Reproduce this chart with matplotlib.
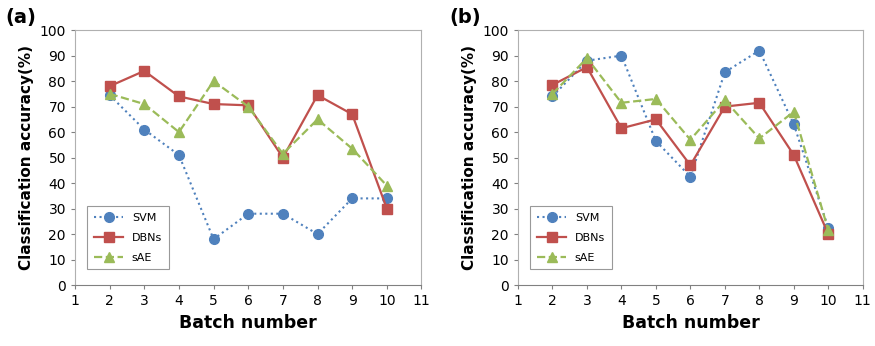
import matplotlib.pyplot as plt

batches = [2, 3, 4, 5, 6, 7, 8, 9, 10]

# panel (a)
svm_a = [74.5, 61, 51, 18, 28, 28, 20, 34, 34]
dbn_a = [78, 84, 74, 71, 70.5, 50, 74.5, 67, 30]
sae_a = [75, 71, 60, 80, 70, 51.5, 65, 53.5, 39]

# panel (b)
svm_b = [74, 88, 90, 56.5, 42.5, 83.5, 92, 63, 22.5]
dbn_b = [78.5, 85.5, 61.5, 65, 47, 70, 71.5, 51, 20]
sae_b = [75, 89, 71.5, 73, 57, 72.5, 57.5, 68, 21.5]

BLUE = "#4F81BD"
RED = "#C0504D"
GREEN = "#9BBB59"

fig = plt.figure(figsize=(8.75, 3.46), dpi=100)
ax_a = fig.add_axes([0.0857, 0.176, 0.396, 0.737])
ax_b = fig.add_axes([0.592, 0.176, 0.394, 0.737])


def draw(ax, svm, dbn, sae, tag):
    ax.plot(batches, svm, color=BLUE, linestyle=":", linewidth=1.5,
            marker="o", markersize=7, label="SVM")
    ax.plot(batches, dbn, color=RED, linestyle="-", linewidth=1.6,
            marker="s", markersize=6.5, label="DBNs")
    ax.plot(batches, sae, color=GREEN, linestyle="--", linewidth=1.6,
            marker="^", markersize=7.5, label="sAE")
    ax.set_xlim(1, 11)
    ax.set_ylim(0, 100)
    ax.set_xticks(range(1, 12))
    ax.set_yticks(range(0, 101, 10))
    ax.tick_params(labelsize=10, length=3, color="#808080")
    for side in ["top", "right", "left"]:
        ax.spines[side].set_color("#B0B0B0")
    ax.spines["bottom"].set_color("#808080")
    ax.set_xlabel("Batch number", fontsize=12.5, fontweight="bold")
    ax.set_ylabel("Classification accuracy(%)", fontsize=11, fontweight="bold")
    leg = ax.legend(loc="lower left", fontsize=8, fancybox=False,
                    edgecolor="#808080", borderpad=0.6, labelspacing=0.9,
                    handlelength=2.6, bbox_to_anchor=(0.02, 0.04))
    leg.get_frame().set_linewidth(0.8)
    ax.text(-0.2, 1.05, tag, transform=ax.transAxes, fontsize=14,
            fontweight="bold", va="center")


draw(ax_a, svm_a, dbn_a, sae_a, "(a)")
draw(ax_b, svm_b, dbn_b, sae_b, "(b)")

fig.savefig("out.png", dpi=100)
